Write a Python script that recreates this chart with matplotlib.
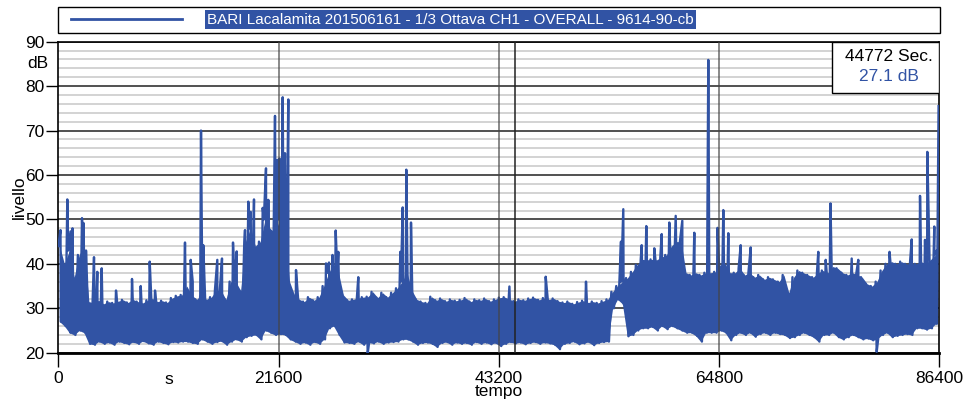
import numpy as np
import matplotlib
matplotlib.use('Agg')
import matplotlib.pyplot as plt
from matplotlib.patches import Rectangle
from matplotlib.lines import Line2D

matplotlib.rc('font', family=['Liberation Sans', 'DejaVu Sans'], size=12.5)

BLUE = '#3153a4'

title = 'BARI Lacalamita 201506161 - 1/3 Ottava CH1 - OVERALL - 9614-90-cb'
cursor_t = 44772
cursor_db = 27.1

# one value pair per 480 s bin: top and bottom of the noise band (dB)
bin_s = 480
band_hi = [
    44, 40, 43, 37, 42, 44,
    31.5, 31.2, 31.8, 31, 31.5, 31.2, 31.6, 31.9, 31.3, 32, 31.5, 31.2, 31.8, 32.2, 31.5, 31.7, 31.3, 32.3, 32.8, 33,
    35, 33, 32, 33, 32, 32.5, 34, 34, 32, 36, 36, 34,
    45, 48, 44, 45, 50, 48, 47, 50, 48, 36,
    33, 32, 31.5, 32.5, 31.8, 32.5,
    35, 38, 40, 38,
    33, 31.8, 32, 32.3, 32.5, 32.6, 33.7, 32.4, 33.5, 32.5, 33.5,
    34.5, 36, 38, 34,
    32, 31.5, 31.2, 32.6, 31.8, 32.2, 31.6, 32, 31.7, 31.9, 32.3, 31.5, 32, 31.8, 32.2, 31.6, 32, 32.4, 32.5, 32,
    31.6, 32, 31.8, 32.2, 32.4, 31.9, 32.3, 32, 32.2, 31.6, 31.3, 31.5, 31, 31.4, 31.7, 31.3, 31.5, 31.2, 31.6,
    32, 33.7, 35, 36,
    36.8, 38.2, 39.8, 41, 40.9, 41, 40.9, 41.5, 42, 44, 45, 45,
    38, 37.5, 38, 37.5, 38, 38, 38.2, 39.8, 40, 38, 38, 39, 37.5, 38, 37, 37.5, 36.5, 37, 36.5, 36, 37.5, 33.5,
    37, 38.5, 38, 37.5, 37, 38, 38.5, 38, 39.4, 39, 38, 37.5, 38, 37.5, 37, 35.5, 35, 36,
    38.5, 40, 40.5, 40, 40.5, 40, 40, 40, 40.5, 40, 41, 42,
]
band_lo = [
    27, 26, 24.5, 24, 25, 24.5,
    22, 21.8, 22.5, 22, 22.3, 21.8, 22.5, 22.2, 21.9, 22.4, 22, 22.6, 22.1, 21.8, 22.5, 22.2, 21.9, 22.4, 22.3, 22.5,
    22.5, 22.2, 22, 23, 22.5, 22, 22.4, 22.6, 21.8, 22.5, 23, 22.5,
    23.5, 23.8, 24, 23, 25, 24.5, 24, 24.2, 24, 23,
    22.5, 22, 22.3, 21.8, 22.4, 22,
    23, 25.5, 26, 24,
    22.3, 22.2, 22, 22.5, 21.8, 22.3, 22.1, 22.5, 22, 22.3, 22.4,
    22.5, 23, 23, 22.5,
    21.8, 22.2, 22.3, 22, 21.3, 22.2, 22.4, 21.8, 22.3, 22, 22.2, 21.8, 22.4, 22, 22.3, 21.9, 22.2, 21.5, 22, 22.4,
    22.1, 22.3, 21.9, 22.2, 22.4, 22, 22.3, 22.1, 21.8, 20.8, 22, 22.2, 22.5, 21.9, 22.1, 22.4, 21.7, 22.2, 22.4,
    22.5, 30, 32, 31,
    23.7, 24, 25, 25.5, 25.5, 25.8, 25, 26, 25.3, 26, 25.5, 25,
    24.5, 24.5, 23.8, 22.5, 24.5, 24.5, 24.5, 25, 24.5, 22.8, 24, 24.5, 24, 24.5, 23.6, 24.2, 24.5, 24, 24.5, 24.2, 24, 23.3,
    23.5, 24, 24.5, 24, 23.5, 22.5, 24, 24, 24.5, 23.5, 23, 23.5, 24, 23.5, 23, 23.2, 22.8, 23,
    24, 24.5, 23.5, 23.8, 24, 24.2, 24, 25.5, 25.5, 25.2, 25.5, 26.5,
]

# isolated peaks / dips (s, dB)
spike_t = [216, 883, 1196, 1393, 2324, 2471, 2717, 3501, 3825, 4256, 5659, 7228, 8081, 8964, 9483,
           12425, 12984, 13181, 13995, 14220, 15593, 16054, 17133, 17496, 18310, 18633, 18869, 19192,
           20045, 20369, 20595, 21252, 21477, 21693, 22007, 22233, 22556, 23311, 26253, 26547, 26890,
           27204, 27460, 29421, 30343, 33540, 33775, 34128, 34589, 44240, 47799, 51751, 55183, 55409,
           57213, 57666, 58450, 59176, 59921, 60549, 61196, 62373, 63745, 64648, 65217, 65707, 66923,
           67904, 74533, 75258, 75729, 77809, 78456, 80259, 81518, 83695, 84509, 84999, 85225, 85909,
           86145, 86330]
spike_db = [47.6, 54.5, 47.3, 48, 50.3, 49.2, 43, 41.5, 38.2, 39, 34, 36.6, 35, 40.5, 34,
            44.8, 40.9, 36, 70, 44.2, 40.9, 41.2, 44.8, 42.8, 47.6, 54, 51.7, 54.5,
            52.6, 61.5, 54.4, 73.3, 63.4, 63.7, 77.5, 64.9, 77, 38.6, 40.1, 40.3, 42,
            47.5, 42.7, 37, 19.8, 42.7, 52.7, 61.2, 49.3, 34.9, 37.1, 36, 45, 52.3,
            44.2, 48.5, 43.5, 46.7, 49.3, 50.8, 49.7, 47, 85.9, 48.1, 52.1, 46.9, 44.2,
            43.7, 42.7, 40.9, 53.6, 41.2, 40.9, 20.2, 42.7, 45.5, 55.3, 45.4, 65.2, 48.4,
            43, 75.5]

t_bin = np.arange(len(band_hi)) * bin_s
t = np.concatenate([t_bin, t_bin + bin_s / 2, spike_t])
y = np.concatenate([band_hi, band_lo, spike_db])
order = np.argsort(t, kind='stable')

W, H = 967, 403
fig = plt.figure(figsize=(W / 100, H / 100), dpi=100)
ax = fig.add_axes([58.3 / W, 50.3 / H, 881 / W, 311 / H])

# solid core of the noise band + the jagged trace on top
ax.fill_between(t_bin + bin_s / 4, band_lo, band_hi, color=BLUE, lw=0, zorder=2)
ax.plot(t[order], y[order], color=BLUE, lw=1.7, zorder=3)

ax.set_xlim(0, 86400)
ax.set_ylim(20, 90)
ax.set_yticks(range(20, 91, 10))
ax.set_yticks(range(20, 90, 2), minor=True)
ax.set_xticks([0, 21600, 43200, 64800, 86400])
ax.grid(which='minor', axis='y', color='#d0d0d0', lw=1.3, zorder=1)
ax.grid(which='major', axis='y', color='#333333', lw=1.2, zorder=1)
ax.set_axisbelow(True)
for xv in [21600, 43200, 64800]:
    ax.axvline(xv, color='#444444', lw=1.1, alpha=0.8, zorder=4)
ax.axvline(cursor_t, color='#222222', lw=1.1, zorder=4)

ax.tick_params(axis='y', which='minor', length=0)
ax.tick_params(axis='y', which='major', length=9, width=1, pad=1)
ax.tick_params(axis='x', length=10, width=1, pad=3)
for s in ax.spines.values():
    s.set_linewidth(1.2)
ax.spines['bottom'].set_linewidth(2)

ax.set_xlabel('tempo', labelpad=-1)
ax.set_ylabel('livello')
ax.yaxis.set_label_coords(-0.036, 0.5)
ax.text(10800, -0.085, 's', transform=ax.get_xaxis_transform(), ha='center', va='center')
fig.text(37.5 / W, 1 - 64 / H, 'dB', ha='center', va='center')

# cursor box
ax.add_patch(Rectangle((0.878, 0.836), 0.122, 0.164, transform=ax.transAxes,
                       facecolor='white', edgecolor='black', lw=1, zorder=5))
ax.text(0.943, 0.954, '{} Sec.'.format(cursor_t), transform=ax.transAxes,
        ha='center', va='center', zorder=6)
ax.text(0.943, 0.888, '{} dB'.format(cursor_db), transform=ax.transAxes,
        ha='center', va='center', color=BLUE, zorder=6)

# legend box on top
fig.patches.append(Rectangle((58.3 / W, 1 - 33 / H), 881.7 / W, 26 / H, transform=fig.transFigure,
                             facecolor='white', edgecolor='black', lw=1))
fig.lines.append(Line2D([71 / W, 182 / W], [1 - 19 / H, 1 - 19 / H], transform=fig.transFigure,
                        color=BLUE, lw=2))
fig.text(207 / W, 1 - 19.5 / H, title, color='white', ha='left', va='center', fontsize=11,
         bbox=dict(facecolor=BLUE, edgecolor='none', pad=1.5))

fig.savefig('out.png', dpi=100)
